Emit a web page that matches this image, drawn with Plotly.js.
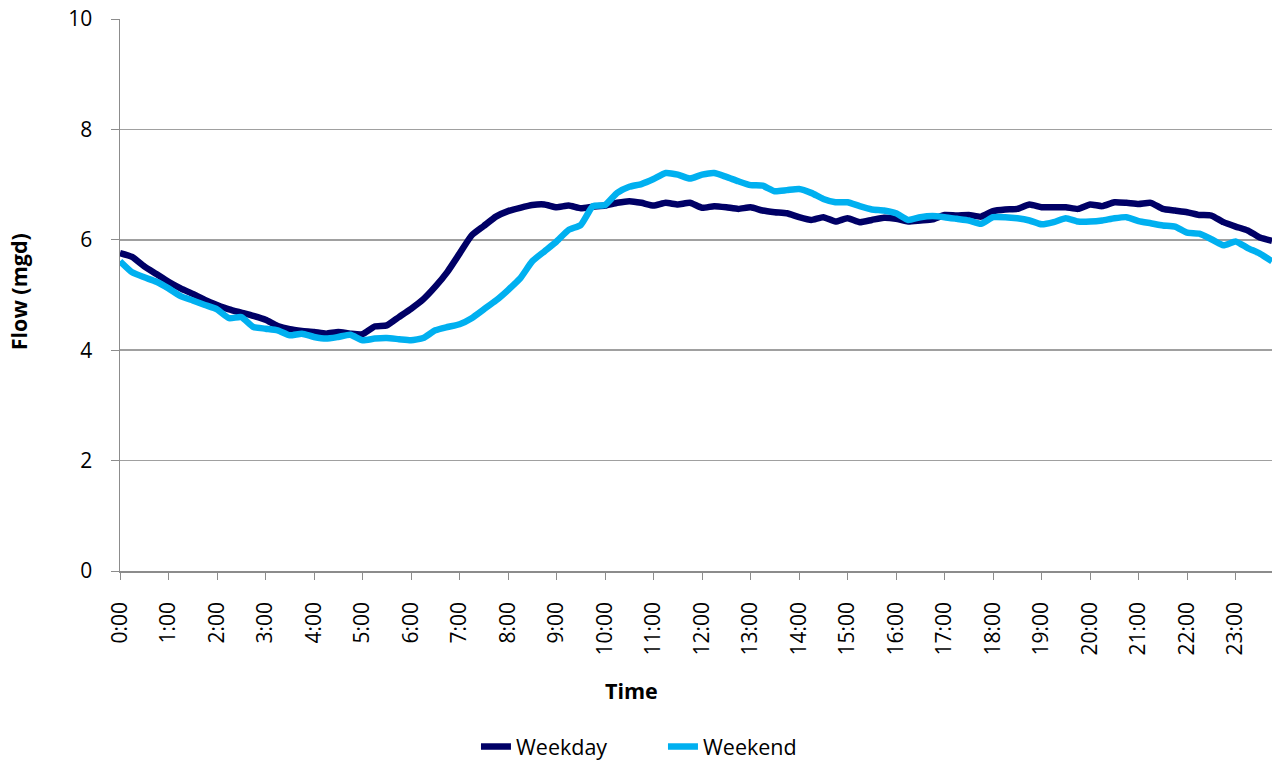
<!DOCTYPE html>
<html>
<head>
<meta charset="utf-8">
<script src="https://cdn.plot.ly/plotly-3.0.1.min.js"></script>
<style>
html,body{margin:0;padding:0;background:#fff;}
#chart{width:1272px;height:763px;}
</style>
</head>
<body>
<div id="chart"></div>
<script>
const times = [
"0:00","0:15","0:30","0:45","1:00","1:15","1:30","1:45","2:00","2:15","2:30","2:45",
"3:00","3:15","3:30","3:45","4:00","4:15","4:30","4:45","5:00","5:15","5:30","5:45",
"6:00","6:15","6:30","6:45","7:00","7:15","7:30","7:45","8:00","8:15","8:30","8:45",
"9:00","9:15","9:30","9:45","10:00","10:15","10:30","10:45","11:00","11:15","11:30","11:45",
"12:00","12:15","12:30","12:45","13:00","13:15","13:30","13:45","14:00","14:15","14:30","14:45",
"15:00","15:15","15:30","15:45","16:00","16:15","16:30","16:45","17:00","17:15","17:30","17:45",
"18:00","18:15","18:30","18:45","19:00","19:15","19:30","19:45","20:00","20:15","20:30","20:45",
"21:00","21:15","21:30","21:45","22:00","22:15","22:30","22:45","23:00","23:15","23:30","23:45"
];

const hourTicks = ["0:00","1:00","2:00","3:00","4:00","5:00","6:00","7:00","8:00","9:00","10:00","11:00",
"12:00","13:00","14:00","15:00","16:00","17:00","18:00","19:00","20:00","21:00","22:00","23:00"];

const weekday = [
5.76,5.69,5.52,5.38,5.24,5.12,5.02,4.91,4.82,4.74,4.68,4.62,
4.55,4.44,4.38,4.35,4.33,4.30,4.33,4.30,4.29,4.43,4.45,4.60,
4.75,4.92,5.15,5.42,5.75,6.08,6.25,6.42,6.52,6.58,6.63,6.64,
6.59,6.62,6.57,6.60,6.62,6.67,6.70,6.67,6.62,6.67,6.64,6.67,
6.58,6.61,6.59,6.56,6.59,6.53,6.50,6.48,6.41,6.36,6.41,6.33,
6.39,6.32,6.36,6.40,6.38,6.33,6.35,6.37,6.45,6.44,6.45,6.42,
6.52,6.55,6.56,6.64,6.59,6.59,6.59,6.56,6.64,6.61,6.68,6.67,
6.65,6.67,6.56,6.53,6.50,6.45,6.44,6.32,6.24,6.17,6.04,5.98
];

const weekend = [
5.61,5.41,5.32,5.24,5.12,4.98,4.90,4.82,4.74,4.58,4.60,4.42,
4.39,4.36,4.27,4.30,4.24,4.21,4.24,4.28,4.18,4.21,4.22,4.20,
4.18,4.22,4.36,4.42,4.47,4.58,4.74,4.90,5.09,5.30,5.61,5.79,
5.97,6.18,6.27,6.61,6.63,6.85,6.96,7.01,7.10,7.21,7.18,7.11,
7.18,7.21,7.14,7.06,6.99,6.98,6.88,6.90,6.92,6.85,6.74,6.68,
6.68,6.61,6.55,6.53,6.48,6.36,6.41,6.43,6.41,6.38,6.35,6.29,
6.41,6.41,6.39,6.35,6.28,6.32,6.39,6.33,6.33,6.35,6.39,6.41,
6.34,6.30,6.26,6.24,6.13,6.11,6.01,5.90,5.97,5.85,5.75,5.61
];

const FONT = "'Open Sans', 'Liberation Sans', sans-serif";

const traces = [
  {x: times, y: weekday, name: "Weekday", type: "scatter", mode: "lines",
   line: {color: "#000066", width: 6.5, shape: "spline", smoothing: 0.5}},
  {x: times, y: weekend, name: "Weekend", type: "scatter", mode: "lines",
   line: {color: "#00B0F0", width: 6.5, shape: "spline", smoothing: 0.5}}
];

const layout = {
  width: 1272, height: 763,
  margin: {l: 120, r: 0, t: 19, b: 192, autoexpand: false},
  paper_bgcolor: "#ffffff", plot_bgcolor: "#ffffff",
  font: {family: FONT, color: "#000000", size: 21},
  showlegend: true,
  legend: {orientation: "h", x: 0.309, xanchor: "left", y: -0.318, yanchor: "middle",
           entrywidth: 142, entrywidthmode: "pixels", borderwidth: 0,
           font: {family: FONT, size: 21.5, color: "#000000"}},
  xaxis: {
    type: "category", range: [0, 95],
    tickmode: "array", tickvals: hourTicks, ticktext: hourTicks,
    tickangle: -90, ticks: "outside", ticklen: 7, tickcolor: "#8c8c8c", ticklabelstandoff: 14,
    showline: true, linecolor: "#8c8c8c", linewidth: 1.5,
    showgrid: false, zeroline: false, automargin: false,
    tickfont: {family: FONT, size: 21, color: "#000000"}
  },
  yaxis: {
    range: [0, 10], tickvals: [0, 2, 4, 6, 8, 10],
    ticks: "outside", ticklen: 8, tickcolor: "#8c8c8c", ticklabelstandoff: 14,
    showline: true, linecolor: "#8c8c8c", linewidth: 1.5,
    showgrid: true, gridcolor: "#a0a0a0", gridwidth: 1.5, zeroline: false, automargin: false,
    tickfont: {family: FONT, size: 21, color: "#000000"}
  },
  annotations: [
    {text: "<b>Time</b>", xref: "paper", yref: "paper", x: 0.4444, y: -0.2168,
     xanchor: "center", yanchor: "middle", showarrow: false,
     font: {family: FONT, size: 21.5, color: "#000000"}},
    {text: "<b>Flow (mgd)</b>", xref: "paper", yref: "paper", x: -0.0885, y: 0.505,
     xanchor: "center", yanchor: "middle", textangle: -90, showarrow: false,
     font: {family: FONT, size: 21.5, color: "#000000"}}
  ]
};

Plotly.newPlot("chart", traces, layout, {displayModeBar: false, staticPlot: true});
</script>
</body>
</html>
